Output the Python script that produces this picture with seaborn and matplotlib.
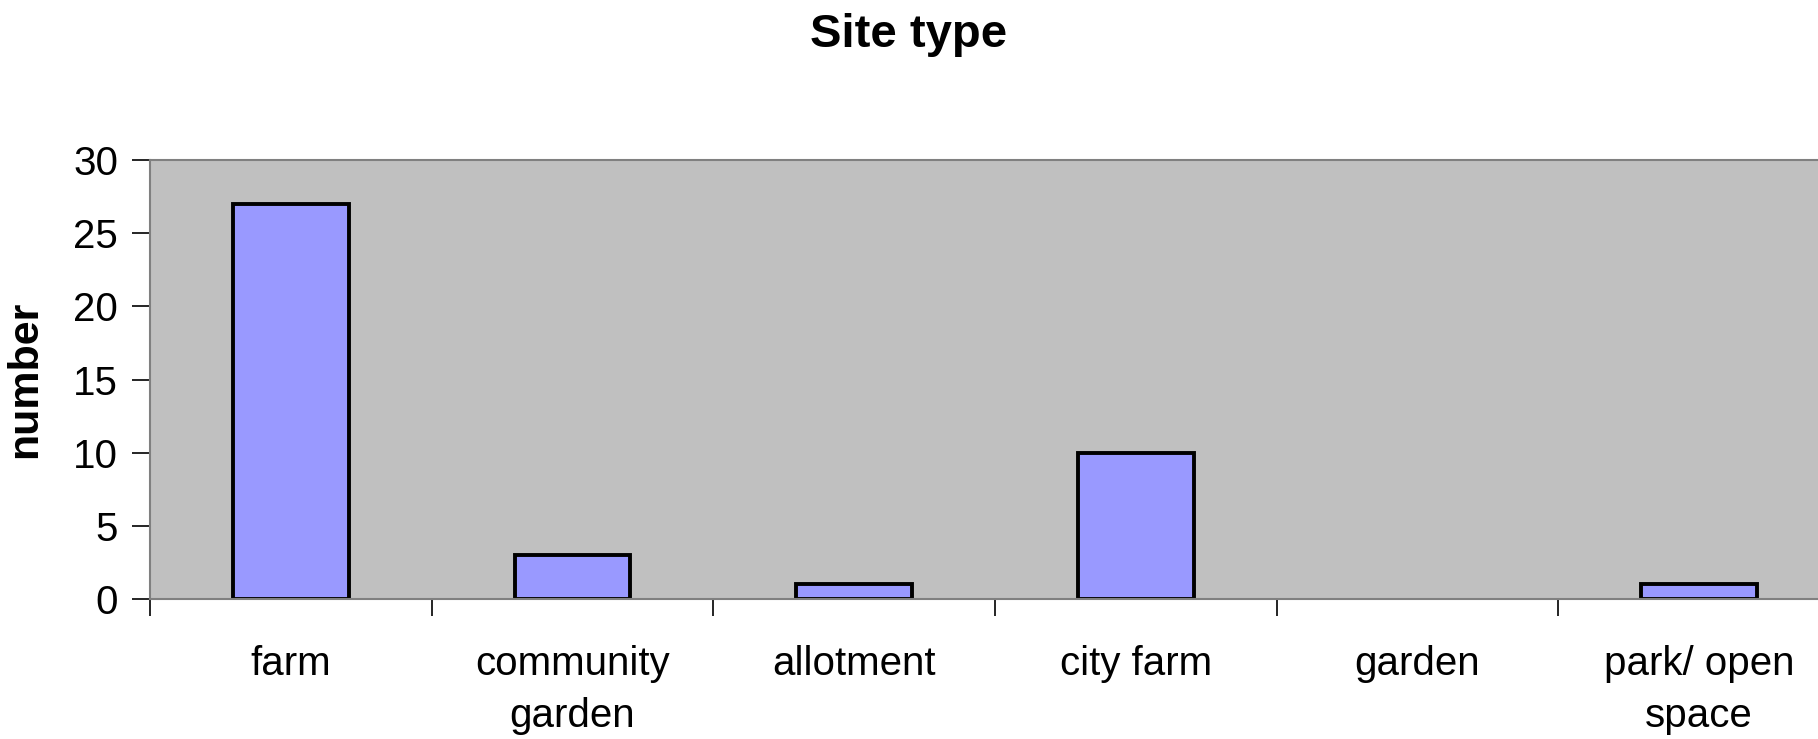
import matplotlib
matplotlib.use("Agg")
import matplotlib.pyplot as plt
import seaborn as sns
import pandas as pd
import numpy as np

categories = ["farm", "community\ngarden", "allotment", "city farm", "garden", "park/ open\nspace"]
counts = [27, 3, 1, 10, 0, 1]
y_ticks = [0, 5, 10, 15, 20, 25, 30]

sns.set_theme(style="white")
plt.rcParams["font.family"] = ["Liberation Sans", "DejaVu Sans"]
plt.rcParams["text.color"] = "black"
plt.rcParams["xtick.color"] = "black"
plt.rcParams["ytick.color"] = "black"
plt.rcParams["axes.labelcolor"] = "black"

df = pd.DataFrame({"site": categories, "number": counts})

fig = plt.figure(figsize=(18.18, 7.39), dpi=100)
ax = fig.add_axes([150 / 1818, 140 / 739, 1690 / 1818, 439 / 739])
ax.set_facecolor("#C0C0C0")

sns.barplot(data=df, x="site", y="number", color="#9999FF", edgecolor="black",
            linewidth=2.8, width=0.41, saturation=1, ax=ax)

# empty categories get no outline
for patch in ax.patches:
    if patch.get_height() == 0:
        patch.set_linewidth(0)

ax.set_xlim(-0.5, len(categories) - 0.5)
ax.set_ylim(0, 30)
ax.set_yticks(y_ticks)
ax.set_yticklabels([str(t) for t in y_ticks], fontsize=29)
ax.tick_params(axis="y", direction="out", length=13, width=1.2, color="black",
               pad=10, left=True)

# category labels sit between boundary ticks
ax.set_xticks(range(len(categories)))
ax.set_xticklabels(categories, fontsize=29, linespacing=1.48)
ax.tick_params(axis="x", which="major", length=0, pad=33)
ax.set_xticks(np.arange(-0.5, len(categories), 1.0), minor=True)
ax.tick_params(axis="x", which="minor", direction="out", length=12, width=1.2,
               color="black", bottom=True)

for side in ["left", "bottom", "top", "right"]:
    ax.spines[side].set_color("#808080")
    ax.spines[side].set_linewidth(1.5)

ax.set_xlabel("")
ax.set_ylabel("number", fontsize=31, fontweight="bold")
ax.yaxis.set_label_coords(-0.062, 0.5)

fig.text(0.5, 1 - 47 / 739, "Site type", ha="center", va="baseline",
         fontsize=34, fontweight="bold")

fig.savefig("out.png", dpi=100)
